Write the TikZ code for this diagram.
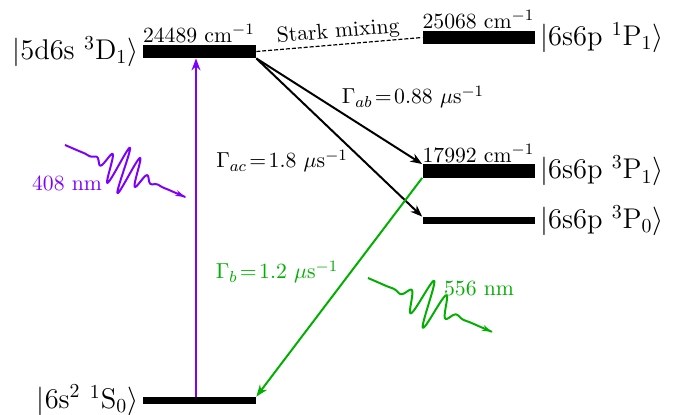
\documentclass[tikz,border=0pt]{standalone}
\usetikzlibrary{arrows.meta,calc}
\definecolor{violetc}{RGB}{125,0,255}
\definecolor{greenc}{RGB}{0,175,0}
\tikzset{
 lvl/.style={fill=black, inner sep=0pt, minimum width=57pt, minimum height=6.6pt},
 thinlvl/.style={lvl, minimum height=3.5pt},
 statelbl/.style={font=\fontsize{14.4}{17}\selectfont, inner sep=2pt},
 txt/.style={font=\fontsize{10.95}{13}\selectfont},
 energy/.style={txt, anchor=base west, inner sep=0pt},
 trans/.style={line width=1pt, -{Stealth[length=6pt,width=4.5pt]}},
 photon/.style={line width=1pt, line join=round, -{Stealth[length=5pt,width=3pt]}},
}
\begin{document}
\begin{tikzpicture}[x=0.505pt,y=-0.505pt]
\useasboundingbox (0,0) rectangle (676,415);
% levels
\node[lvl] (D1) at (199.5,51.5) {};
\node[lvl] (P1s) at (479,37.5) {};
\node[lvl] (P1t) at (479,171) {};
\node[thinlvl] (P0) at (479,220.5) {};
\node[thinlvl] (S0) at (199.5,400.5) {};
% energies
\node[energy] (eD1) at ($(D1.north west)+(0,-2)$) {24489 cm$^{-1}$};
\node[energy] (eP1s) at ($(P1s.north west)+(0,-2)$) {25068 cm$^{-1}$};
\node[energy] (eP1t) at ($(P1t.north west)+(0,-2)$) {17992 cm$^{-1}$};
% state labels
\node[statelbl, anchor=east] (lD1) at (D1.west) {$|\mathrm{5d6s}\ {}^3\mathrm{D}_1\rangle$};
\node[statelbl, anchor=east] (lS0) at (S0.west) {$|\mathrm{6s}^2\ {}^1\mathrm{S}_0\rangle$};
\node[statelbl, anchor=west] (lP1s) at (P1s.east) {$|\mathrm{6s6p}\ {}^1\mathrm{P}_1\rangle$};
\node[statelbl, anchor=west] (lP1t) at (P1t.east) {$|\mathrm{6s6p}\ {}^3\mathrm{P}_1\rangle$};
\node[statelbl, anchor=west] (lP0) at (P0.east) {$|\mathrm{6s6p}\ {}^3\mathrm{P}_0\rangle$};
% transitions
\draw[trans, violetc] ($(S0.north)+(-3.5,0)$) -- ($(D1.south)+(-3.5,0)$);
\draw[trans] (D1.south east) -- (P1t.north west);
\draw[trans] (D1.south east) -- (P0.north west);
\draw[trans, greenc] (P1t.south west) -- (S0.north east);
\draw[line width=0.6pt, dash pattern=on 2pt off 1pt] (D1.east) -- node[sloped, above, txt, inner sep=1pt] (stark) {Stark mixing} (P1s.west);
% rates
\node[txt] (gab) at (413,97) {$\Gamma_{ab}\!=\!0.88\ \mu\mathrm{s}^{-1}$};
\node[txt] (gac) at (282,161) {$\Gamma_{ac}\!=\!1.8\ \mu\mathrm{s}^{-1}$};
\node[txt, text=greenc] (gb) at (277,272) {$\Gamma_{b}\!=\!1.2\ \mu\mathrm{s}^{-1}$};
% photons
\node[txt, text=violetc] (n408) at (67,183) {408 nm};
\node[txt, text=greenc] (n556) at (479,289) {556 nm};
\begin{scope}[shift={(65,145)}, rotate=-23.4]
 \draw[photon, violetc] plot[domain=0:131, samples=400, smooth] (\x, {24*exp(-((\x-64)/19)*((\x-64)/19))*sin(26*(\x-64))});
\end{scope}
\begin{scope}[shift={(368,278)}, rotate=-23.5]
 \draw[photon, greenc] plot[domain=0:135, samples=400, smooth] (\x, {25*exp(-((\x-66)/19)*((\x-66)/19))*sin(20*(\x-66))});
\end{scope}
\end{tikzpicture}
\end{document}
